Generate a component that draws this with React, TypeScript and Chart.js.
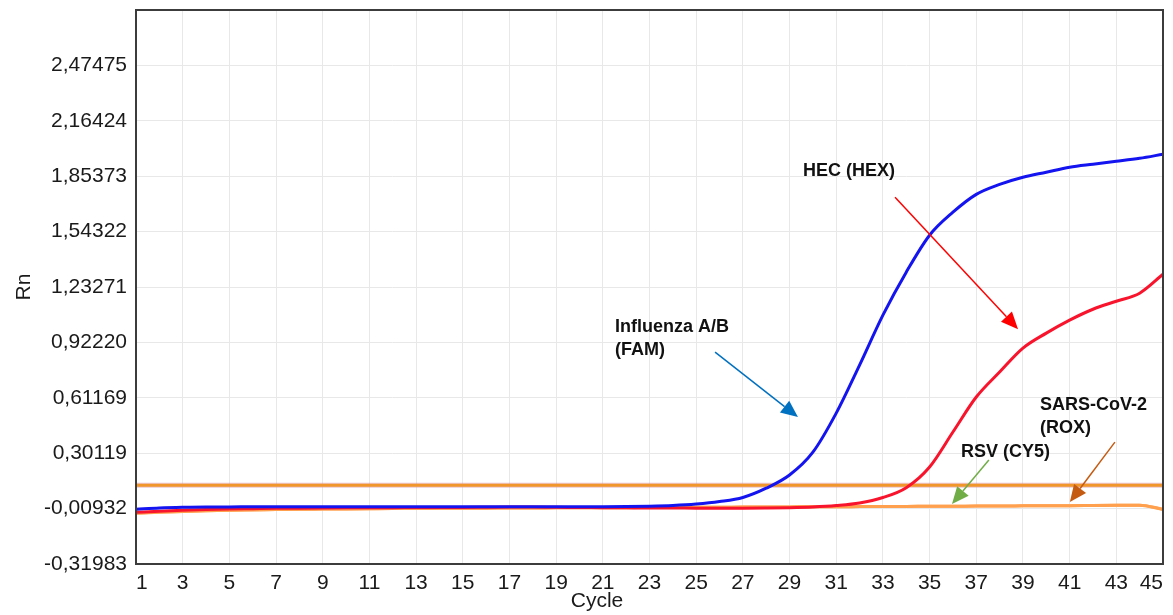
import React, { useEffect, useRef } from 'react';
import { Chart, registerables } from 'chart.js';

Chart.register(...registerables);

// ---------------- data ----------------
const cycles = [1, 2, 3, 4, 5, 6, 7, 8, 9, 10, 11, 12, 13, 14, 15, 16, 17, 18, 19, 20, 21, 22, 23, 24, 25, 26, 27, 28, 29, 30, 31, 32, 33, 34, 35, 36, 37, 38, 39, 40, 41, 42, 43, 44, 45];

// Influenza A/B (FAM)
const famRn = [-0.013, -0.006, -0.002, 0.0, 0.0, 0.001, 0.001, 0.001, 0.001, 0.001, 0.001, 0.001, 0.001, 0.001, 0.001, 0.001, 0.001, 0.001, 0.001, 0.001, 0.001, 0.002, 0.004, 0.008, 0.016, 0.030, 0.053, 0.105, 0.179, 0.307, 0.526, 0.795, 1.075, 1.316, 1.523, 1.652, 1.752, 1.808, 1.848, 1.876, 1.904, 1.921, 1.937, 1.954, 1.977];

// HEC (HEX)
const hexRn = [-0.030, -0.024, -0.019, -0.015, -0.012, -0.010, -0.008, -0.007, -0.006, -0.005, -0.004, -0.004, -0.003, -0.003, -0.003, -0.002, -0.001, -0.001, -0.002, -0.003, -0.004, -0.005, -0.006, -0.006, -0.007, -0.007, -0.007, -0.006, -0.004, 0.000, 0.008, 0.022, 0.053, 0.108, 0.224, 0.420, 0.616, 0.756, 0.890, 0.974, 1.047, 1.108, 1.153, 1.198, 1.304];

// RSV (CY5)
const cy5Rn = [-0.034, -0.029, -0.025, -0.021, -0.018, -0.016, -0.014, -0.013, -0.012, -0.011, -0.010, -0.009, -0.008, -0.008, -0.007, -0.007, -0.006, -0.006, -0.005, -0.005, -0.004, -0.004, -0.003, -0.003, -0.002, -0.002, -0.001, -0.001, 0.000, 0.001, 0.001, 0.002, 0.003, 0.003, 0.004, 0.004, 0.005, 0.005, 0.006, 0.007, 0.007, 0.008, 0.009, 0.010, -0.013];

// SARS-CoV-2 (ROX)
const roxRn = [-0.035, -0.030, -0.026, -0.022, -0.019, -0.017, -0.015, -0.013, -0.012, -0.011, -0.010, -0.009, -0.009, -0.008, -0.007, -0.007, -0.006, -0.006, -0.005, -0.005, -0.004, -0.004, -0.003, -0.003, -0.002, -0.002, -0.001, -0.001, 0.000, 0.001, 0.001, 0.002, 0.003, 0.003, 0.004, 0.004, 0.005, 0.005, 0.006, 0.007, 0.007, 0.008, 0.009, 0.010, -0.014];

const thresholdRn = 0.121;

const yTickValues = [-0.31983, -0.00932, 0.30119, 0.61169, 0.9222, 1.23271, 1.54322, 1.85373, 2.16424, 2.47475];
const yMin = -0.31983;
const yMax = 2.78526;
const xTickValues = [1, 3, 5, 7, 9, 11, 13, 15, 17, 19, 21, 23, 25, 27, 29, 31, 33, 35, 37, 39, 41, 43, 45];

// annotation labels (anchored in data coordinates)
const annotationLabels = [
  { lines: ['Influenza A/B', '(FAM)'], x: 21.52, y: 1.0076, color: '#0070C0', from: [25.81, 0.8676], to: [29.36, 0.5035] },
  { lines: ['HEC (HEX)'], x: 29.58, y: 1.8813, color: '#FF0000', from: [33.52, 1.7357], to: [38.79, 0.9964] },
  { lines: ['RSV (CY5)'], x: 36.35, y: 0.3075, color: '#70AD47', from: [37.54, 0.2627], to: [35.96, 0.0162] },
  { lines: ['SARS-CoV-2', '(ROX)'], x: 39.73, y: 0.5707, color: '#C55A11', from: [42.94, 0.3635], to: [41.01, 0.0274] },
];

const FONT = '"Liberation Sans", Arial, Helvetica, sans-serif';

const pts = (vals: number[]) => cycles.map((c, i) => ({ x: c, y: vals[i] }));

const decorPlugin = {
  id: 'decor',
  afterDraw(chart: any) {
    const { ctx, chartArea: a, scales } = chart;
    const xs = scales.x;
    const ys = scales.y;
    ctx.save();
    // frame
    ctx.strokeStyle = '#3c3c3c';
    ctx.lineWidth = 2;
    ctx.strokeRect(a.left, a.top, a.right - a.left, a.bottom - a.top);

    // annotations
    ctx.font = `bold 18px ${FONT}`;
    ctx.fillStyle = '#111';
    ctx.textAlign = 'left';
    ctx.textBaseline = 'middle';
    annotationLabels.forEach((an) => {
      const tx = xs.getPixelForValue(an.x);
      const ty = ys.getPixelForValue(an.y);
      an.lines.forEach((ln, i) => ctx.fillText(ln, tx, ty + i * 23));
      const x1 = xs.getPixelForValue(an.from[0]);
      const y1 = ys.getPixelForValue(an.from[1]);
      const x2 = xs.getPixelForValue(an.to[0]);
      const y2 = ys.getPixelForValue(an.to[1]);
      const ang = Math.atan2(y2 - y1, x2 - x1);
      const headLen = 17;
      const headW = 7.5;
      const bx = x2 - headLen * Math.cos(ang);
      const by = y2 - headLen * Math.sin(ang);
      ctx.strokeStyle = an.color;
      ctx.fillStyle = an.color;
      ctx.lineWidth = 1.5;
      ctx.beginPath();
      ctx.moveTo(x1, y1);
      ctx.lineTo(bx, by);
      ctx.stroke();
      ctx.beginPath();
      ctx.moveTo(x2, y2);
      ctx.lineTo(bx + headW * Math.sin(ang), by - headW * Math.cos(ang));
      ctx.lineTo(bx - headW * Math.sin(ang), by + headW * Math.cos(ang));
      ctx.closePath();
      ctx.fill();
      ctx.fillStyle = '#111';
    });

    // x-axis title
    ctx.font = `21px ${FONT}`;
    ctx.fillStyle = '#1a1a1a';
    ctx.textAlign = 'center';
    ctx.textBaseline = 'middle';
    ctx.fillText('Cycle', a.left + 461, a.bottom + 37);
    ctx.restore();
  },
};

export default function App() {
  const ref = useRef<HTMLCanvasElement | null>(null);

  useEffect(() => {
    if (!ref.current) return;
    const fmt = (v: number) => v.toFixed(5).replace('.', ',');
    const chart = new Chart(ref.current, {
      type: 'line',
      data: {
        datasets: [
          { label: 'Influenza A/B (FAM)', data: pts(famRn), borderColor: '#1414F0', borderWidth: 3, pointRadius: 0, cubicInterpolationMode: 'monotone' },
          { label: 'HEC (HEX)', data: pts(hexRn), borderColor: '#F8142C', borderWidth: 3, pointRadius: 0, cubicInterpolationMode: 'monotone' },
          { label: 'SARS-CoV-2 (ROX)', data: pts(roxRn), borderColor: '#FFA04E', borderWidth: 3, pointRadius: 0, cubicInterpolationMode: 'monotone' },
          { label: 'RSV (CY5)', data: pts(cy5Rn), borderColor: '#FFA85C', borderWidth: 3, pointRadius: 0, cubicInterpolationMode: 'monotone' },
          { label: 'Threshold', data: [{ x: cycles[0], y: thresholdRn }, { x: cycles[cycles.length - 1], y: thresholdRn }], borderColor: '#F0962A', borderWidth: 3, pointRadius: 0 },
          { label: 'Threshold halo', data: [{ x: cycles[0], y: thresholdRn }, { x: cycles[cycles.length - 1], y: thresholdRn }], borderColor: 'rgba(215,130,150,0.45)', borderWidth: 5, pointRadius: 0 },
        ],
      } as any,
      options: {
        animation: false,
        responsive: true,
        maintainAspectRatio: false,
        layout: { padding: { top: 10, right: 10, left: 0, bottom: 0 } },
        plugins: { legend: { display: false }, tooltip: { enabled: false } },
        scales: {
          x: {
            type: 'linear',
            min: 1,
            max: 45,
            afterBuildTicks: (s: any) => { s.ticks = xTickValues.map((v) => ({ value: v })); },
            afterFit: (s: any) => { s.height = 51; s.paddingLeft = 0; s.paddingRight = 0; },
            border: { display: false },
            grid: { color: '#e8e8e8', lineWidth: 1, drawTicks: false },
            ticks: {
              align: 'inner',
              padding: 7,
              color: '#1a1a1a',
              font: { family: FONT, size: 21 },
              maxRotation: 0,
              autoSkip: false,
              callback: (v: any) => String(v),
            },
            title: { display: false },
          },
          y: {
            type: 'linear',
            min: yMin,
            max: yMax,
            afterBuildTicks: (s: any) => { s.ticks = yTickValues.map((v) => ({ value: v })); },
            afterFit: (s: any) => { s.width = 136; s.paddingTop = 0; s.paddingBottom = 0; },
            border: { display: false },
            grid: { color: '#e8e8e8', lineWidth: 1, drawTicks: false },
            ticks: {
              padding: 9,
              color: '#1a1a1a',
              font: { family: FONT, size: 21 },
              autoSkip: false,
              callback: (v: any) => fmt(Number(v)),
            },
            title: {
              display: true,
              text: 'Rn',
              color: '#1a1a1a',
              font: { family: FONT, size: 21 },
              padding: { top: 12, bottom: 0 },
            },
          },
        },
      } as any,
      plugins: [decorPlugin],
    });
    return () => chart.destroy();
  }, []);

  return (
    <div style={{ position: 'fixed', left: 0, top: 0, width: 1173, height: 615, background: '#fff' }}>
      <canvas ref={ref} />
    </div>
  );
}
